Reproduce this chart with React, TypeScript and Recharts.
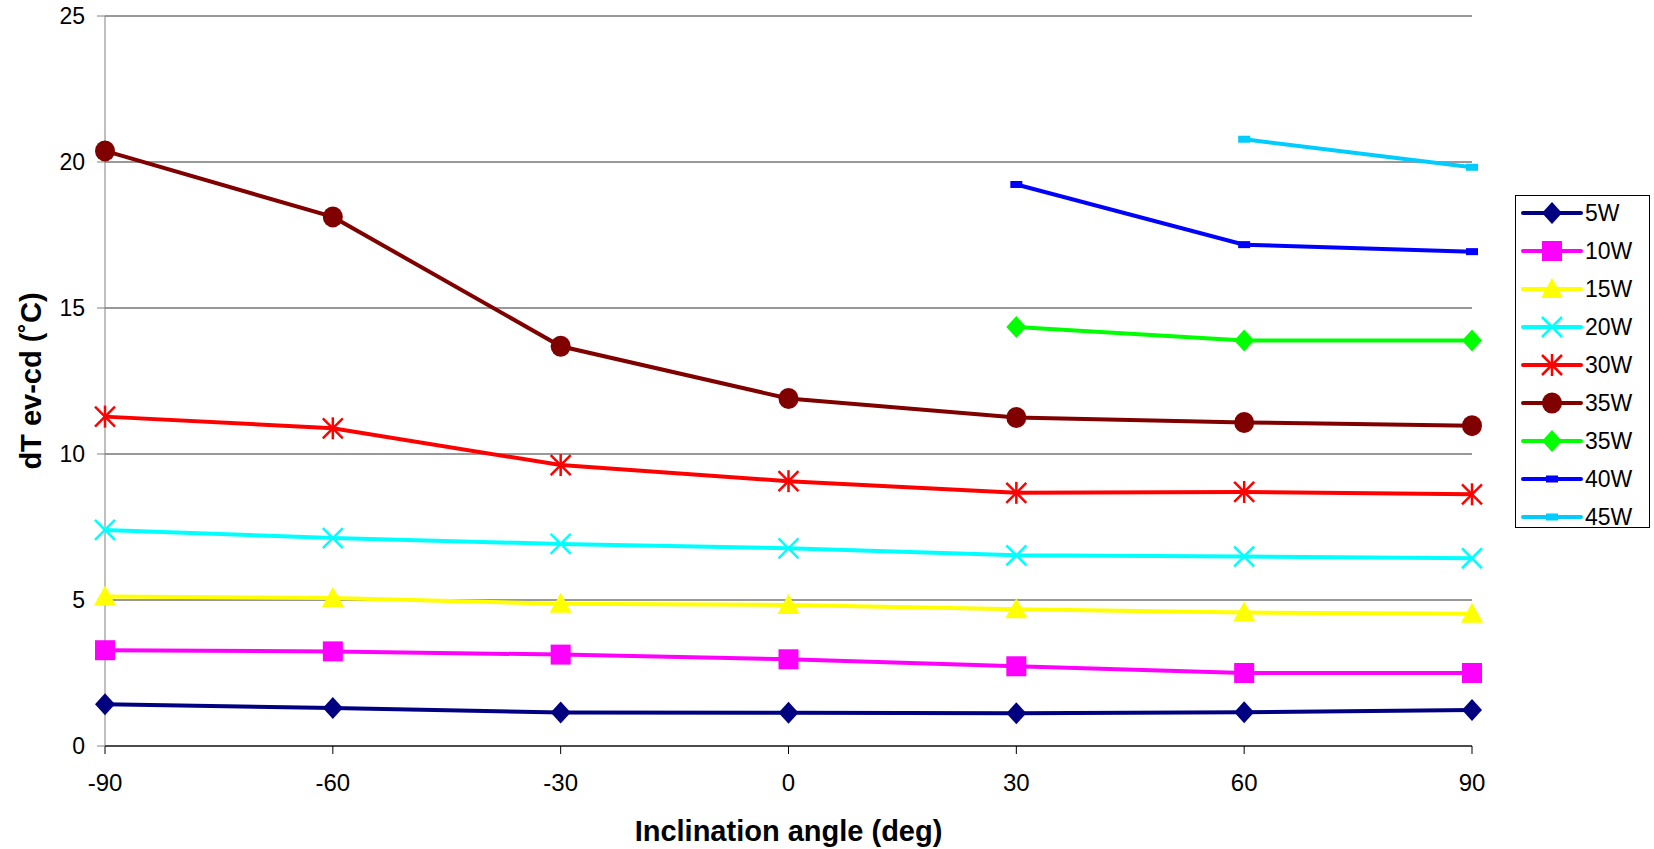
import { LineChart, Line, XAxis, YAxis, CartesianGrid } from 'recharts';

// inclination angles (deg)
const angles = [-90, -60, -30, 0, 30, 60, 90];

const w5 = [1.43, 1.3, 1.15, 1.14, 1.12, 1.16, 1.23];
const w10 = [3.28, 3.24, 3.13, 2.97, 2.73, 2.5, 2.5];
const w15 = [5.12, 5.07, 4.87, 4.83, 4.68, 4.57, 4.53];
const w20 = [7.4, 7.12, 6.92, 6.77, 6.53, 6.49, 6.43];
const w30 = [11.28, 10.88, 9.62, 9.07, 8.67, 8.7, 8.62];
const w35 = [20.38, 18.12, 13.69, 11.9, 11.25, 11.08, 10.97];
const w35b = [null, null, null, null, 14.35, 13.89, 13.89];
const w40 = [null, null, null, null, 19.23, 17.17, 16.93];
const w45 = [null, null, null, null, null, 20.78, 19.82];

const xTicks = [-90, -60, -30, 0, 30, 60, 90];
const yTicks = [0, 5, 10, 15, 20, 25];

type Shape = 'diamond' | 'square' | 'triangle' | 'x' | 'star' | 'circle' | 'dash';

const series: { key: string; name: string; color: string; shape: Shape; values: (number | null)[] }[] = [
  { key: 's5', name: '5W', color: '#000080', shape: 'diamond', values: w5 },
  { key: 's10', name: '10W', color: '#FF00FF', shape: 'square', values: w10 },
  { key: 's15', name: '15W', color: '#FFFF00', shape: 'triangle', values: w15 },
  { key: 's20', name: '20W', color: '#00FFFF', shape: 'x', values: w20 },
  { key: 's30', name: '30W', color: '#FF0000', shape: 'star', values: w30 },
  { key: 's35', name: '35W', color: '#800000', shape: 'circle', values: w35 },
  { key: 's35b', name: '35W', color: '#00FF00', shape: 'diamond', values: w35b },
  { key: 's40', name: '40W', color: '#0000FF', shape: 'dash', values: w40 },
  { key: 's45', name: '45W', color: '#00CCFF', shape: 'dash', values: w45 },
];

const data = angles.map((a, i) => {
  const row: Record<string, number | null> = { angle: a };
  series.forEach((s) => {
    row[s.key] = s.values[i];
  });
  return row;
});

const FONT = '"Liberation Sans", Arial, sans-serif';

const Marker = ({ cx, cy, shape, color }: { cx: number; cy: number; shape: Shape; color: string }) => {
  switch (shape) {
    case 'diamond':
      return <polygon points={`${cx},${cy - 11} ${cx + 10},${cy} ${cx},${cy + 11} ${cx - 10},${cy}`} fill={color} />;
    case 'square':
      return <rect x={cx - 10} y={cy - 10} width={20} height={20} fill={color} />;
    case 'triangle':
      return <polygon points={`${cx},${cy - 11} ${cx + 11},${cy + 9} ${cx - 11},${cy + 9}`} fill={color} />;
    case 'x':
      return (
        <g stroke={color} strokeWidth={2.5}>
          <line x1={cx - 10} y1={cy - 10} x2={cx + 10} y2={cy + 10} />
          <line x1={cx - 10} y1={cy + 10} x2={cx + 10} y2={cy - 10} />
        </g>
      );
    case 'star':
      return (
        <g stroke={color} strokeWidth={2.5}>
          <line x1={cx - 10} y1={cy - 10} x2={cx + 10} y2={cy + 10} />
          <line x1={cx - 10} y1={cy + 10} x2={cx + 10} y2={cy - 10} />
          <line x1={cx} y1={cy - 11} x2={cx} y2={cy + 11} />
        </g>
      );
    case 'circle':
      return <ellipse cx={cx} cy={cy} rx={10} ry={10.5} fill={color} />;
    case 'dash':
      return <rect x={cx - 6} y={cy - 3.5} width={12} height={7} fill={color} />;
  }
  return null;
};

const makeDot = (shape: Shape, color: string) => (props: any) => {
  const { cx, cy, value, index } = props;
  if (value == null || cx == null || cy == null) return <g key={index} />;
  return (
    <g key={index}>
      <Marker cx={cx} cy={cy} shape={shape} color={color} />
    </g>
  );
};

const LegendBox = () => (
  <svg
    width={136}
    height={333}
    style={{ position: 'absolute', left: 1515, top: 195 }}
  >
    <rect x={0.5} y={0.5} width={134} height={332} fill="#fff" stroke="#000" strokeWidth={1} />
    {series.map((s, i) => {
      const y = 18 + i * 38;
      return (
        <g key={s.key}>
          <line x1={8} y1={y} x2={66} y2={y} stroke={s.color} strokeWidth={4} strokeLinecap="round" />
          <Marker cx={37} cy={y} shape={s.shape} color={s.color} />
          <text x={70} y={y + 8} fontFamily={FONT} fontSize={23} fill="#000">
            {s.name}
          </text>
        </g>
      );
    })}
  </svg>
);

const App = () => {
  return (
    <div style={{ position: 'absolute', left: 0, top: 0, width: 1654, height: 849, background: '#fff' }}>
      <LineChart
        width={1654}
        height={849}
        data={data}
        margin={{ top: 16, right: 182, bottom: 0, left: 0 }}
      >
        <CartesianGrid vertical={false} stroke="#333" strokeWidth={1} />
        <XAxis
          dataKey="angle"
          type="number"
          domain={[-90, 90]}
          ticks={xTicks}
          height={103}
          stroke="#000"
          tickSize={8}
          tickMargin={20}
          tick={{ fill: '#000', fontSize: 24, fontFamily: FONT }}
          label={{
            value: 'Inclination angle (deg)',
            position: 'insideBottom',
            offset: 8,
            style: { fill: '#000', fontSize: 29, fontWeight: 'bold', fontFamily: FONT },
          }}
        />
        <YAxis
          type="number"
          domain={[0, 25]}
          ticks={yTicks}
          width={105}
          stroke="#808080"
          tickSize={8}
          tickMargin={12}
          tick={{ fill: '#000', fontSize: 23, fontFamily: FONT }}
          label={{
            value: 'dT ev-cd (˚C)',
            angle: -90,
            position: 'insideLeft',
            offset: 0,
            dx: 31,
            style: { fill: '#000', fontSize: 29, fontWeight: 'bold', fontFamily: FONT, textAnchor: 'middle' },
          }}
        />
        {series.map((s) => (
          <Line
            key={s.key}
            dataKey={s.key}
            name={s.name}
            type="linear"
            stroke={s.color}
            strokeWidth={4}
            dot={makeDot(s.shape, s.color)}
            activeDot={false}
            connectNulls={false}
            isAnimationActive={false}
          />
        ))}
      </LineChart>
      <LegendBox />
    </div>
  );
};

export default App;
